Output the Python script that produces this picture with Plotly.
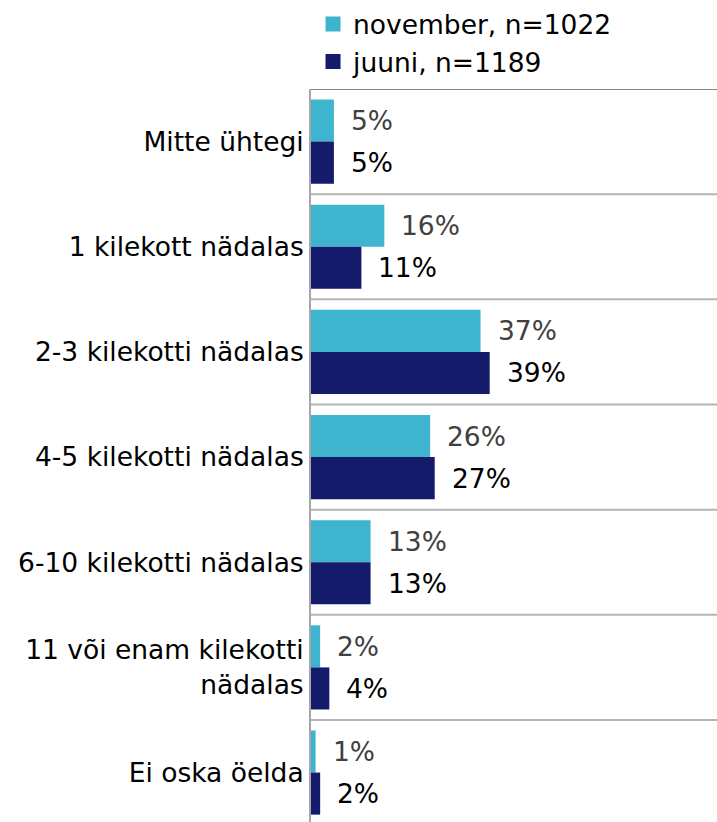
import plotly.graph_objects as go

categories = ["Mitte ühtegi", "1 kilekott nädalas", "2-3 kilekotti nädalas",
              "4-5 kilekotti nädalas", "6-10 kilekotti nädalas",
              "11 või enam kilekotti<br>nädalas", "Ei oska öelda"]
november = [5, 16, 37, 26, 13, 2, 1]
juuni = [5, 11, 39, 27, 13, 4, 2]
series_names = ["november, n=1022", "juuni, n=1189"]

FONT = "DejaVu Sans"
FS = 26.5
c_nov = "#3FB4CF"
c_jun = "#141B6B"

fig = go.Figure()
fig.add_trace(go.Bar(y=categories, x=november, orientation="h", name=series_names[0],
                     marker=dict(color=c_nov, line=dict(width=0)), showlegend=False))
fig.add_trace(go.Bar(y=categories, x=juuni, orientation="h", name=series_names[1],
                     marker=dict(color=c_jun, line=dict(width=0)), showlegend=False))
# legend entries with larger square swatches
for name, col in zip(series_names, [c_nov, c_jun]):
    fig.add_trace(go.Scatter(x=[None], y=[None], mode="markers", name=name,
                             marker=dict(symbol="square", size=15, color=col)))

n = len(categories)
annotations = []
for i, cat in enumerate(categories):
    annotations.append(dict(x=november[i], y=i - 0.2, xref="x", yref="y", text=f"{november[i]}%",
                            showarrow=False, xanchor="left", yanchor="middle", xshift=15,
                            font=dict(family=FONT, size=FS, color="#404040")))
    annotations.append(dict(x=juuni[i], y=i + 0.2, xref="x", yref="y", text=f"{juuni[i]}%",
                            showarrow=False, xanchor="left", yanchor="middle", xshift=15,
                            font=dict(family=FONT, size=FS, color="#000000")))

shapes = []
for i in range(1, n):
    shapes.append(dict(type="line", xref="paper", yref="y", x0=0, x1=1, y0=i - 0.5, y1=i - 0.5,
                       line=dict(color="#B4B4B4", width=2), layer="below"))
shapes.append(dict(type="line", xref="paper", yref="y", x0=0, x1=1, y0=-0.5, y1=-0.5,
                   line=dict(color="#868686", width=2), layer="below"))

fig.update_layout(
    width=717, height=822,
    margin=dict(l=311, r=0, t=89, b=0, autoexpand=False),
    paper_bgcolor="white", plot_bgcolor="white",
    barmode="group", bargap=0.2, bargroupgap=0,
    font=dict(family=FONT, size=FS, color="#000000"),
    showlegend=True,
    legend=dict(x=0.005, xanchor="left", y=1.121, yanchor="top", orientation="v",
                font=dict(family=FONT, size=FS, color="#000000"),
                itemwidth=30, tracegroupgap=0, bgcolor="rgba(0,0,0,0)"),
    annotations=annotations,
    shapes=shapes,
)
fig.update_xaxes(range=[0, 88.6], showgrid=False, zeroline=False, showticklabels=False,
                 ticks="", showline=False)
fig.update_yaxes(type="category", categoryorder="array", categoryarray=categories,
                 range=[6.47, -0.5], showgrid=False, zeroline=False,
                 ticks="", showline=True, linecolor="#A6A6A6", linewidth=2,
                 ticklabelstandoff=0, tickfont=dict(family=FONT, size=FS, color="#000000"))

fig.write_html("out.html", config={"displayModeBar": False},
               post_script="document.body.style.margin='0';document.body.style.padding='0';")
